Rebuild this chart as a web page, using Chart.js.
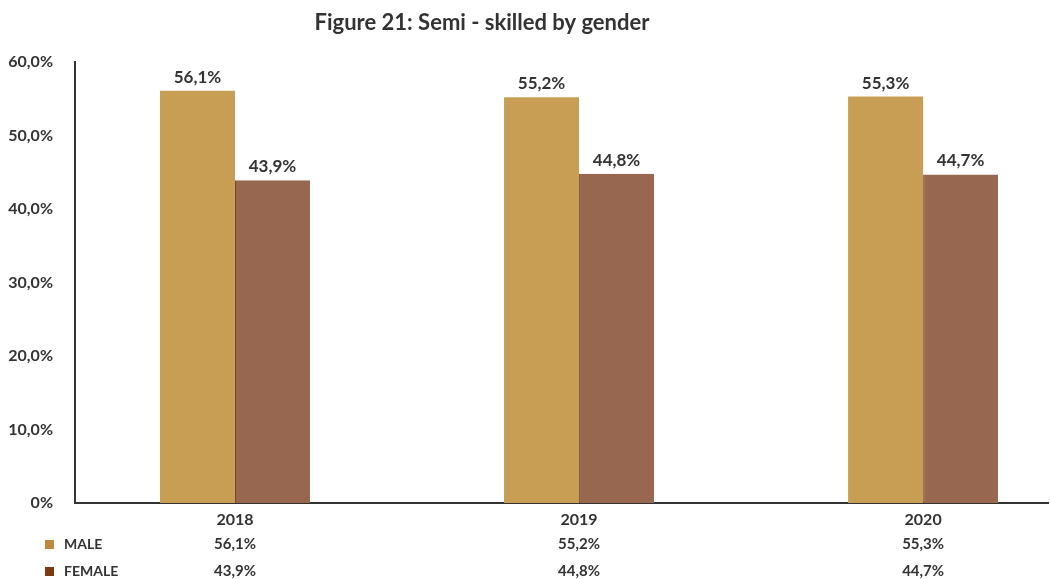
<!DOCTYPE html>
<html>
<head>
<meta charset="utf-8">
<script src="https://cdn.jsdelivr.net/npm/chart.js@4/dist/chart.umd.min.js"></script>
<style>
    html, body { margin: 0; padding: 0; background: #fff; }
    #wrap { width: 1051px; height: 579px; position: relative; }
</style>
</head>
<body>
<div id="wrap"><canvas id="genderChart" width="1051" height="579"></canvas></div>
<script>
const years = ['2018', '2019', '2020'];
const maleValues = [56.1, 55.2, 55.3];
const femaleValues = [43.9, 44.8, 44.7];
const seriesNames = ['MALE', 'FEMALE'];
const yTicks = [0, 10, 20, 30, 40, 50, 60];
const chartTitle = 'Figure 21: Semi - skilled by gender';

const FONT = 'Lato, "Open Sans", sans-serif';
const TEXT = '#333333';
const barColors = ['#c89e54', '#98674f'];
const keyColors = ['#c08a3a', '#7b3a12'];

function pct(v) {
    if (v === 0) return '0%';
    return v.toFixed(1).replace('.', ',') + '%';
}

// value labels over each bar
const barLabels = {
    id: 'barLabels',
    afterDatasetsDraw(chart) {
        const ctx = chart.ctx;
        ctx.save();
        ctx.font = 'bold 17px ' + FONT;
        ctx.fillStyle = TEXT;
        ctx.textAlign = 'center';
        ctx.textBaseline = 'bottom';
        chart.data.datasets.forEach((ds, di) => {
            chart.getDatasetMeta(di).data.forEach((bar, i) => {
                ctx.fillText(pct(ds.data[i].y), bar.x, bar.y - 5);
            });
        });
        ctx.restore();
    }
};

// title, year row and the little data table underneath
const extras = {
    id: 'extras',
    afterDraw(chart) {
        const ctx = chart.ctx;
        const x = chart.scales.x;
        ctx.save();
        ctx.fillStyle = TEXT;
        ctx.textBaseline = 'middle';

        ctx.font = 'bold 22px ' + FONT;
        ctx.textAlign = 'center';
        ctx.fillText(chartTitle, 482, 23);

        ctx.font = 'bold 16px ' + FONT;
        years.forEach((yr, i) => ctx.fillText(yr, x.getPixelForValue(i), 520));

        const rows = [maleValues, femaleValues];
        const rowY = [544, 571];
        rows.forEach((vals, r) => {
            ctx.fillStyle = keyColors[r];
            ctx.fillRect(45, rowY[r] - 4, 9, 9);
            ctx.fillStyle = TEXT;
            ctx.font = 'bold 14px ' + FONT;
            ctx.textAlign = 'left';
            ctx.fillText(seriesNames[r], 64, rowY[r]);
            ctx.font = 'bold 15px ' + FONT;
            ctx.textAlign = 'center';
            vals.forEach((v, i) => ctx.fillText(pct(v), x.getPixelForValue(i), rowY[r]));
        });
        ctx.restore();
    }
};

const ctxGender = document.getElementById('genderChart').getContext('2d');
new Chart(ctxGender, {
    type: 'bar',
    data: {
        datasets: [
            {
                label: seriesNames[0],
                data: maleValues.map((v, i) => ({ x: i, y: v })),
                backgroundColor: barColors[0],
                borderWidth: 0
            },
            {
                label: seriesNames[1],
                data: femaleValues.map((v, i) => ({ x: i, y: v })),
                backgroundColor: barColors[1],
                borderColor: '#7d4529',
                borderWidth: { left: 1, top: 0, right: 0, bottom: 0 }
            }
        ]
    },
    options: {
        responsive: false,
        animation: false,
        layout: { padding: { top: 62, right: 3, bottom: 76, left: 0 } },
        datasets: {
            bar: { barPercentage: 1, categoryPercentage: 0.436 }
        },
        plugins: {
            legend: { display: false },
            tooltip: { enabled: false },
            title: { display: false }
        },
        scales: {
            x: {
                type: 'linear',
                offset: false,
                min: -0.465,
                max: 2.363,
                afterBuildTicks: (scale) => { scale.ticks = years.map((_, i) => ({ value: i })); },
                grid: { display: false, drawTicks: false, offset: false },
                border: { color: TEXT, width: 2 },
                ticks: { display: false }
            },
            y: {
                min: 0,
                max: 60,
                afterBuildTicks: (scale) => { scale.ticks = yTicks.map(v => ({ value: v })); },
                afterFit: (scale) => { scale.width = 75; },
                grid: { display: false, drawTicks: false },
                border: { color: TEXT, width: 2 },
                ticks: {
                    padding: 22,
                    color: TEXT,
                    font: { family: FONT, size: 16, weight: 'bold' },
                    callback: (v) => pct(v)
                }
            }
        }
    },
    plugins: [barLabels, extras]
});
</script>
</body>
</html>
